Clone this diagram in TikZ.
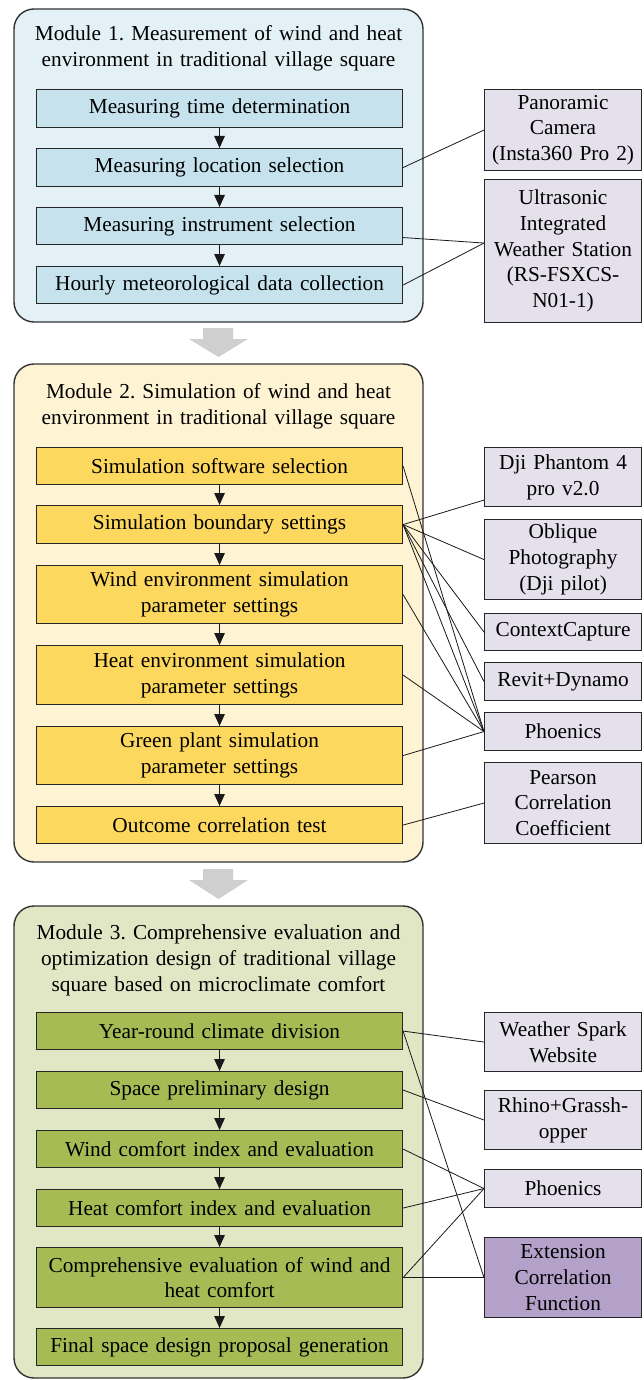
\documentclass[tikz,border=0pt]{standalone}
\usepackage{fontspec}
\setmainfont{Liberation Serif}
\usetikzlibrary{arrows.meta,calc}
\definecolor{mOneBg}{HTML}{E3F1F7}
\definecolor{mOneBox}{HTML}{C6E3ED}
\definecolor{mTwoBg}{HTML}{FEF4D4}
\definecolor{mTwoBox}{HTML}{FDD85E}
\definecolor{mThreeBg}{HTML}{E1E7C5}
\definecolor{mThreeBox}{HTML}{A7BB55}
\definecolor{toolc}{HTML}{E4E0EC}
\definecolor{toolDark}{HTML}{B3A1C9}
\definecolor{blockgray}{HTML}{CFCFCF}
\frenchspacing
\begin{document}
\begin{tikzpicture}[x=1pt,y=-1pt,
  font=\fontsize{21.3}{25.8}\selectfont,
  module/.style={draw=black!80, line width=1.4pt, rounded corners=20pt},
  title/.style={text width=400pt, align=center, inner sep=0pt},
  stepbox/.style={draw=black!85, line width=1.1pt, anchor=north west, minimum width=366pt, text width=360pt, inner xsep=3pt, inner ysep=0pt, align=center},
  tool/.style={draw=black!85, line width=1.1pt, fill=toolc, anchor=north west, minimum width=157pt, text width=153pt, inner xsep=2pt, inner ysep=0pt, align=center},
  flow/.style={-{Triangle[length=12pt,width=10.5pt]}, line width=1.2pt, black!90},
  link/.style={line width=0.8pt, black!90},
  blockarrow/.style={fill=blockgray, draw=none}
]
\useasboundingbox (0,0) rectangle (643,1380);

% ---------- Module 1 ----------
\draw[module, fill=mOneBg] (14,9) rectangle (423,322);
\node[title] (t1) at (218.5,48) {Module 1. Measurement of wind and heat\\environment in traditional village square};
\node[stepbox, fill=mOneBox, minimum height=38pt] (a1) at (36,89) {Measuring time determination};
\node[stepbox, fill=mOneBox, minimum height=38pt] (a2) at (36,148) {Measuring location selection};
\node[stepbox, fill=mOneBox, minimum height=37pt] (a3) at (36,207) {Measuring instrument selection};
\node[stepbox, fill=mOneBox, minimum height=37pt] (a4) at (36,266) {Hourly meteorological data collection};
\draw[flow] (a1.south) -- (a2.north);
\draw[flow] (a2.south) -- (a3.north);
\draw[flow] (a3.south) -- (a4.north);
\node[tool, minimum height=81pt] (pan) at (484,89) {Panoramic\\Camera\\(Insta360 Pro 2)};
\node[tool, minimum height=143pt] (ult) at (484,179) {Ultrasonic\\Integrated\\Weather Station\\(RS-FSXCS-\\N01-1)};
\coordinate (ultin) at ($(ult.west)+(0,-8)$);
\draw[link] (a2.east) -- (pan.west);
\draw[link] ($(a3.east)+(0,11.5)$) -- (ultin);
\draw[link] (a4.east) -- (ultin);

% block arrow 1
\fill[blockarrow] (203,328) -- (233,328) -- (233,339) -- (248,339) -- (218.5,357) -- (189,339) -- (203,339) -- cycle;

% ---------- Module 2 ----------
\draw[module, fill=mTwoBg] (14,364) rectangle (423,862);
\node[title] (t2) at (218.5,406.5) {Module 2. Simulation of wind and heat\\environment in traditional village square};
\node[stepbox, fill=mTwoBox, minimum height=37pt] (s1) at (36,447) {Simulation software selection};
\node[stepbox, fill=mTwoBox, minimum height=38pt] (s2) at (36,505) {Simulation boundary settings};
\node[stepbox, fill=mTwoBox, minimum height=58pt] (s3) at (36,565) {Wind environment simulation\\parameter settings};
\node[stepbox, fill=mTwoBox, minimum height=59pt] (s4) at (36,645) {Heat environment simulation\\parameter settings};
\node[stepbox, fill=mTwoBox, minimum height=58pt] (s5) at (36,726) {Green plant simulation\\parameter settings};
\node[stepbox, fill=mTwoBox, minimum height=37pt] (s6) at (36,806) {Outcome correlation test};
\draw[flow] (s1.south) -- (s2.north);
\draw[flow] (s2.south) -- (s3.north);
\draw[flow] (s3.south) -- (s4.north);
\draw[flow] (s4.south) -- (s5.north);
\draw[flow] (s5.south) -- (s6.north);
\node[tool, minimum height=59pt] (dji) at (484,447) {Dji Phantom 4\\pro v2.0};
\node[tool, minimum height=80pt] (obl) at (484,519) {Oblique\\Photography\\(Dji pilot)};
\node[tool, minimum height=37pt] (cc) at (484,613) {ContextCapture};
\node[tool, minimum height=38pt] (rev) at (484,662) {Revit+Dynamo};
\node[tool, minimum height=38pt] (phx) at (484,712) {Phoenics};
\node[tool, minimum height=81pt] (prs) at (484,762) {Pearson\\Correlation\\Coefficient};
\draw[link] (s1.east) -- (phx.west);
\draw[link] (s2.east) -- ($(dji.west)+(0,23)$);
\draw[link] (s2.east) -- (obl.west);
\draw[link] (s2.east) -- (cc.west);
\draw[link] (s2.east) -- (rev.west);
\draw[link] (s2.east) -- (phx.west);
\draw[link] (s3.east) -- (phx.west);
\draw[link] (s4.east) -- (phx.west);
\draw[link] (s5.east) -- (phx.west);
\draw[link] (s6.east) -- (prs.west);

% block arrow 2
\fill[blockarrow] (203,869) -- (233,869) -- (233,880) -- (248,880) -- (218.5,899) -- (189,880) -- (203,880) -- cycle;

% ---------- Module 3 ----------
\draw[module, fill=mThreeBg] (14,906) rectangle (423,1378);
\node[title] (t3) at (218.5,960.5) {Module 3. Comprehensive evaluation and\\optimization design of traditional village\\square based on microclimate comfort};
\node[stepbox, fill=mThreeBox, minimum height=37pt] (y1) at (36,1012) {Year-round climate division};
\node[stepbox, fill=mThreeBox, minimum height=37pt] (y2) at (36,1071) {Space preliminary design};
\node[stepbox, fill=mThreeBox, minimum height=37pt] (y3) at (36,1130) {Wind comfort index and evaluation};
\node[stepbox, fill=mThreeBox, minimum height=37pt] (y4) at (36,1189) {Heat comfort index and evaluation};
\node[stepbox, fill=mThreeBox, minimum height=60pt] (y5) at (36,1247) {Comprehensive evaluation of wind and\\heat comfort};
\node[stepbox, fill=mThreeBox, minimum height=37pt] (y6) at (36,1328) {Final space design proposal generation};
\draw[flow] (y1.south) -- (y2.north);
\draw[flow] (y2.south) -- (y3.north);
\draw[flow] (y3.south) -- (y4.north);
\draw[flow] (y4.south) -- (y5.north);
\draw[flow] (y5.south) -- (y6.north);
\node[tool, minimum height=59pt] (ws) at (484,1012) {Weather Spark\\Website};
\node[tool, minimum height=59pt] (rh) at (484,1090) {Rhino+Grassh-\\opper};
\node[tool, minimum height=38pt] (ph3) at (484,1169) {Phoenics};
\node[tool, fill=toolDark, minimum height=80pt] (ext) at (484,1237) {Extension\\Correlation\\Function};
\draw[link] (y1.east) -- (ws.west);
\draw[link] (y1.east) -- (ext.west);
\draw[link] (y2.east) -- (rh.west);
\draw[link] (y3.east) -- (ph3.west);
\draw[link] (y4.east) -- (ph3.west);
\draw[link] (y5.east) -- (ph3.west);
\draw[link] (y5.east) -- (ext.west);
\end{tikzpicture}
\end{document}
